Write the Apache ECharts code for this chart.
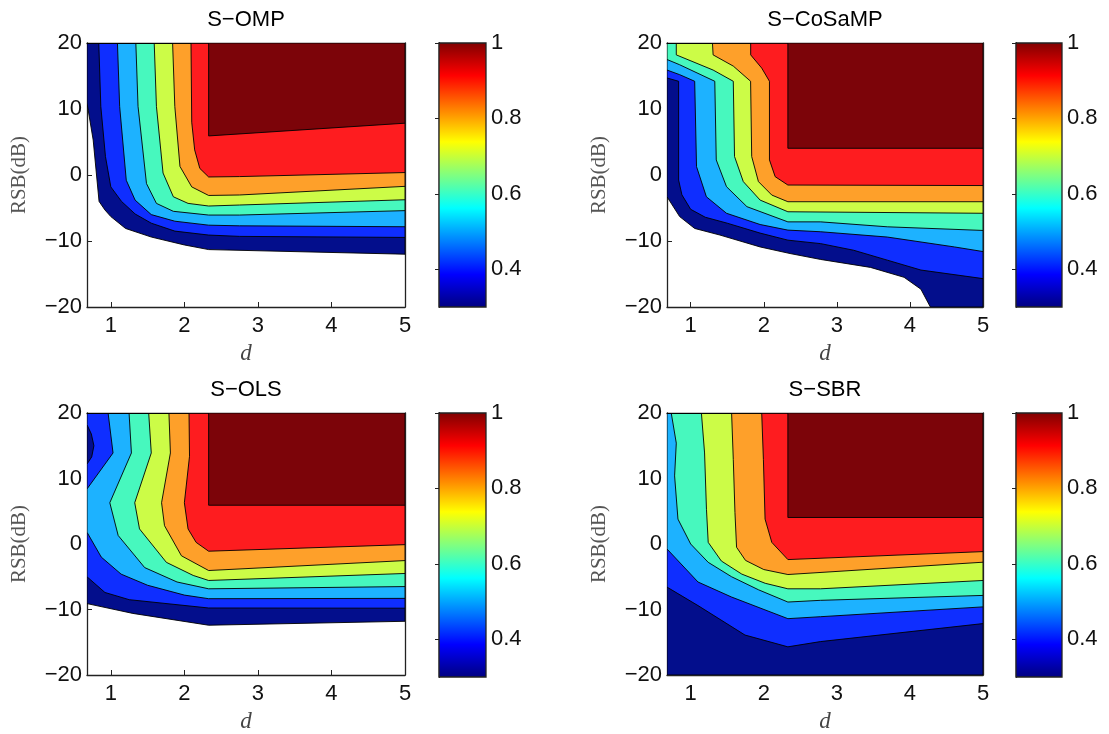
<!DOCTYPE html>
<html><head><meta charset="utf-8">
<script src="https://cdn.jsdelivr.net/npm/echarts@6/dist/echarts.min.js"></script>
<style>html,body{margin:0;padding:0;background:#fff}#c{width:1109px;height:734px}</style>
</head><body><div id="c"></div><script>
// ---------- data ----------
const levels = [0.3, 0.4, 0.5, 0.6, 0.7, 0.8, 0.9, 1.0];
const xTicks = [1, 2, 3, 4, 5];
const yTicks = [-20, -10, 0, 10, 20];
const cbTicks = [0.4, 0.6, 0.8, 1];
const titles = ['S\u2212OMP', 'S\u2212CoSaMP', 'S\u2212OLS', 'S\u2212SBR'];

// contour boundaries (d, RSB dB) of region value >= level
const omp_03 = [[0.676,10.9],[0.76,5.3],[0.84,-4.0],[0.92,-5.3],[1.0,-6.3],[1.2,-8.1],[1.55,-9.4],[2.0,-10.6],[2.33,-11.3],[5,-12.0]];
const omp_04 = [[0.836,20],[0.864,10.4],[0.927,2.8],[1.0,-1.8],[1.145,-4.0],[1.33,-5.9],[1.55,-7.3],[1.87,-8.5],[2.33,-9.1],[2.75,-9.3],[5,-9.46]];
const omp_05 = [[1.09,20],[1.12,10.4],[1.21,-0.8],[1.33,-3.8],[1.55,-6.0],[1.87,-7.0],[2.33,-7.6],[2.75,-7.7],[5,-7.84]];
const omp_06 = [[1.34,20],[1.37,10.4],[1.485,-1.3],[1.62,-4.3],[1.85,-5.5],[2.33,-6.07],[2.75,-6.07],[5,-5.4]];
const omp_07 = [[1.59,20],[1.62,10.4],[1.71,0.3],[1.85,-3.3],[2.05,-4.3],[2.33,-4.7],[2.75,-4.55],[5,-3.75]];
const omp_08 = [[1.84,20],[1.87,10.4],[1.94,1.3],[2.1,-1.8],[2.33,-3.1],[2.75,-3.03],[5,-1.72]];
const omp_09 = [[2.09,20],[2.1,8],[2.14,3.8],[2.21,1.0],[2.33,-0.3],[2.75,-0.24],[5,0.37]];
const omp_10 = [[2.33,20],[2.33,5.92],[5,7.85]];

const cos_03 = [[0.676,-3.3],[0.849,-6.3],[1.055,-8.1],[1.4,-9.1],[1.95,-10.9],[2.36,-11.9],[2.78,-12.8],[3.46,-14.0],[3.92,-15.5],[4.15,-17.3],[4.28,-20]];
const cos_04 = [[0.676,14.7],[0.835,14.2],[0.835,-0.76],[0.88,-3.0],[1.0,-5.2],[1.2,-6.4],[1.5,-7.3],[1.95,-8.8],[2.33,-9.87],[2.78,-10.4],[3.23,-11.4],[3.69,-12.9],[4.15,-14.4],[5,-15.7]];
const cos_05 = [[0.676,15.9],[0.85,15.2],[1.055,14.2],[1.08,1.27],[1.215,-3.3],[1.49,-5.8],[1.95,-7.5],[2.33,-8.35],[2.78,-8.6],[3.69,-9.4],[4.61,-10.9],[5,-11.6]];
const cos_06 = [[0.676,17.5],[0.85,16.7],[1.33,14.2],[1.35,2.28],[1.49,-1.77],[1.77,-4.8],[2.33,-7.1],[2.78,-7.1],[3.69,-7.85],[5,-8.4]];
const cos_07 = [[0.803,20],[0.803,18.2],[1.307,15.9],[1.583,14.2],[1.6,2.8],[1.72,-1.0],[1.95,-3.8],[2.33,-5.57],[5,-5.8]];
const cos_08 = [[1.298,20],[1.307,18.2],[1.583,16.5],[1.82,14.2],[1.835,2.8],[1.927,-1.0],[2.11,-3.04],[2.33,-4.05],[5,-4.05]];
const cos_09 = [[1.821,20],[1.821,18.2],[1.972,16.2],[2.078,14.2],[2.078,2.28],[2.156,-0.25],[2.33,-1.52],[5,-1.6]];
const cos_10 = [[2.33,20],[2.33,4.05],[5,4.05]];

const ols_03 = [[0.676,-9.1],[1.3,-10.6],[2.33,-12.4],[5,-11.8]];
const ols_04 = [[0.676,18.2],[0.735,16.8],[0.77,15],[0.74,13.3],[0.676,12.2],[0.676,-5.0],[0.92,-7.4],[1.25,-8.5],[2.33,-9.77],[5,-9.8]];
const ols_05 = [[0.963,20],[1.03,13.9],[0.676,8.4],[0.676,1.8],[0.87,-2.0],[1.14,-4.6],[1.5,-6.3],[2.0,-7.8],[2.33,-8.35],[5,-8.3]];
const ols_06 = [[1.248,20],[1.28,13.9],[0.986,6.3],[1.1,1.3],[1.46,-3.6],[1.9,-5.8],[2.33,-6.84],[5,-6.5]];
const ols_07 = [[1.515,20],[1.55,13.9],[1.325,6.3],[1.39,2.3],[1.755,-2.8],[2.12,-4.8],[2.33,-5.57],[5,-4.5]];
const ols_08 = [[1.79,20],[1.81,13.9],[1.69,6.3],[1.73,2.8],[1.96,-1.8],[2.33,-4.05],[5,-2.53]];
const ols_09 = [[2.063,20],[2.07,13.4],[2.0,6.3],[2.05,2.3],[2.16,0.25],[2.33,-1.1],[5,-0.1]];
const ols_10 = [[2.33,20],[2.33,5.92],[5,5.92]];

const sbr_03 = [[0.676,-20],[5,-20]];
const sbr_04 = [[0.676,-6.58],[1.1,-9.4],[1.743,-13.9],[2.33,-15.7],[2.775,-14.9],[5,-12.15]];
const sbr_05 = [[0.676,-0.76],[1.1,-5.8],[1.56,-8.1],[2.33,-11.4],[2.775,-11.1],[5,-9.6]];
const sbr_06 = [[0.734,20],[0.803,15.4],[0.78,10.4],[0.826,3.8],[1.0,0.0],[1.24,-2.8],[1.56,-5.0],[1.93,-7.0],[2.33,-8.86],[2.775,-8.6],[5,-7.85]];
const sbr_07 = [[1.147,20],[1.19,13.9],[1.216,5.3],[1.24,0.25],[1.42,-2.6],[1.7,-4.6],[2.02,-6.0],[2.33,-6.84],[2.775,-6.84],[5,-5.57]];
const sbr_08 = [[1.56,20],[1.583,12.9],[1.606,4.8],[1.628,-0.5],[1.75,-2.5],[2.0,-3.9],[2.33,-4.66],[5,-2.78]];
const sbr_09 = [[1.972,20],[1.995,12.9],[2.018,3.8],[2.11,0.25],[2.33,-2.38],[5,-1.16]];
const sbr_10 = [[2.33,20],[2.33,4.05],[5,4.05]];

const ompContours = [omp_03, omp_04, omp_05, omp_06, omp_07, omp_08, omp_09, omp_10];
const cosContours = [cos_03, cos_04, cos_05, cos_06, cos_07, cos_08, cos_09, cos_10];
const olsContours = [ols_03, ols_04, ols_05, ols_06, ols_07, ols_08, ols_09, ols_10];
const sbrContours = [sbr_03, sbr_04, sbr_05, sbr_06, sbr_07, sbr_08, sbr_09, sbr_10];

// ---------- style ----------
const D_MIN = 0.676, D_MAX = 5, Y_MIN = -20, Y_MAX = 20, CB_MIN = 0.3, CB_MAX = 1;
const bandColors = ['#030E8C','#0F2EFF','#1DB2FF','#47F8BE','#CCFC47','#FEA02A','#FE1C1F','#7C0409'];
const SANS = 'Liberation Sans, Arial, Helvetica, sans-serif';
const SERIF = 'Liberation Serif, Times New Roman, serif';
const AX = '#222';

function clamp(v){ return Math.max(0, Math.min(1, v)); }
function jet(t){
  const r = clamp(Math.min(4*t-1.5, -4*t+4.5));
  const g = clamp(Math.min(4*t-0.5, -4*t+3.5));
  const b = clamp(Math.min(4*t+0.5, -4*t+2.5));
  return 'rgb(' + Math.round(r*255) + ',' + Math.round(g*255) + ',' + Math.round(b*255) + ')';
}
const jetStops = [];
for (let i = 0; i <= 64; i++) jetStops.push({offset: i/64, color: jet(i/64)});

const panels = [
  {contours: ompContours, title: titles[0], left: 87,  top: 43,  w: 318, cbLeft: 439,  cbW: 47},
  {contours: cosContours, title: titles[1], left: 667, top: 43,  w: 316, cbLeft: 1016, cbW: 46},
  {contours: olsContours, title: titles[2], left: 87,  top: 413, w: 318, cbLeft: 439,  cbW: 47},
  {contours: sbrContours, title: titles[3], left: 667, top: 413, w: 316, cbLeft: 1016, cbW: 46}
];
const H = 264;
const minus = v => String(v).replace('-', '\u2212');

const option = {animation: false, backgroundColor: '#fff', grid: [], xAxis: [], yAxis: [], series: [], graphic: []};

panels.forEach((p, i) => {
  const gMain = option.grid.length;
  option.grid.push({left: p.left, top: p.top, width: p.w, height: H});
  const gCb = option.grid.length;
  option.grid.push({left: p.cbLeft, top: p.top, width: p.cbW, height: H});

  const axLine = {show: true, onZero: false, lineStyle: {color: AX, width: 1.3}};
  const xb = option.xAxis.length;
  option.xAxis.push({gridIndex: gMain, type: 'value', min: D_MIN, max: D_MAX, position: 'bottom',
    name: 'd', nameLocation: 'middle', nameGap: 35,
    nameTextStyle: {fontFamily: SERIF, fontStyle: 'italic', fontSize: 23, color: '#444'},
    axisLine: axLine, splitLine: {show: false},
    axisTick: {show: true, inside: true, length: 5, customValues: xTicks, lineStyle: {color: AX}},
    axisLabel: {customValues: xTicks, fontSize: 22, fontFamily: SANS, color: '#111', margin: 8}});
  option.xAxis.push({gridIndex: gMain, type: 'value', min: D_MIN, max: D_MAX, position: 'top',
    axisLine: axLine, splitLine: {show: false},
    axisTick: {show: true, inside: true, length: 5, customValues: xTicks, lineStyle: {color: AX}},
    axisLabel: {show: false}});
  const yl = option.yAxis.length;
  option.yAxis.push({gridIndex: gMain, type: 'value', min: Y_MIN, max: Y_MAX, interval: 10, position: 'left',
    name: 'RSB(dB)', nameLocation: 'middle', nameGap: 57, nameRotate: 90,
    nameTextStyle: {fontFamily: SERIF, fontSize: 21, color: '#555'},
    axisLine: axLine, splitLine: {show: false},
    axisTick: {show: true, inside: true, length: 5, lineStyle: {color: AX}},
    axisLabel: {fontSize: 22, fontFamily: SANS, color: '#111', margin: 5, formatter: minus}});
  option.yAxis.push({gridIndex: gMain, type: 'value', min: Y_MIN, max: Y_MAX, interval: 10, position: 'right',
    axisLine: axLine, splitLine: {show: false},
    axisTick: {show: true, inside: true, length: 5, lineStyle: {color: AX}},
    axisLabel: {show: false}});

  // colorbar axes
  const xc = option.xAxis.length;
  option.xAxis.push({gridIndex: gCb, type: 'value', min: 0, max: 1, show: false});
  const yc = option.yAxis.length;
  option.yAxis.push({gridIndex: gCb, type: 'value', min: CB_MIN, max: CB_MAX, position: 'right',
    axisLine: {show: true, lineStyle: {color: AX, width: 1.3}}, splitLine: {show: false},
    axisTick: {show: true, inside: true, length: 4, customValues: cbTicks, lineStyle: {color: AX}},
    axisLabel: {customValues: cbTicks, fontSize: 22, fontFamily: SANS, color: '#111', margin: 5,
      formatter: v => (v === 1 ? '1' : v.toFixed(1))}});
  option.yAxis.push({gridIndex: gCb, type: 'value', min: CB_MIN, max: CB_MAX, position: 'left',
    axisLine: {show: true, lineStyle: {color: AX, width: 1.3}}, splitLine: {show: false},
    axisTick: {show: true, inside: true, length: 4, customValues: cbTicks, lineStyle: {color: AX}},
    axisLabel: {show: false}});

  const contours = p.contours;
  option.series.push({
    type: 'custom', xAxisIndex: xb, yAxisIndex: yl, clip: true, z: 1,
    data: levels.map(l => [l, l]),
    renderItem: function (params, api) {
      const k = params.dataIndex;
      const pts = contours[k].slice();
      const last = pts[pts.length - 1];
      if (last[1] === Y_MIN) pts.push([D_MAX, Y_MIN]);
      pts.push([D_MAX, Y_MAX]);
      pts.push([D_MIN, Y_MAX]);
      return {type: 'polygon', shape: {points: pts.map(q => api.coord(q))},
        style: {fill: bandColors[k], stroke: '#000', lineWidth: 0.9}};
    }
  });
  option.series.push({
    type: 'custom', xAxisIndex: xc, yAxisIndex: yc, clip: false, z: 1,
    data: [[0, CB_MIN]],
    renderItem: function (params, api) {
      const a = api.coord([0, CB_MIN]);
      const b = api.coord([1, CB_MAX]);
      return {type: 'rect', shape: {x: a[0], y: b[1], width: b[0] - a[0], height: a[1] - b[1]},
        style: {fill: {type: 'linear', x: 0, y: 1, x2: 0, y2: 0, colorStops: jetStops}, stroke: AX, lineWidth: 1.3}};
    }
  });

  option.graphic.push({type: 'text', x: p.left + p.w / 2, y: p.top - 23,
    style: {text: p.title, textAlign: 'center', textVerticalAlign: 'middle', font: '22px ' + SANS, fill: '#000'}});
});

const chart = echarts.init(document.getElementById('c'), null, {renderer: 'canvas'});
chart.setOption(option);
</script></body></html>
